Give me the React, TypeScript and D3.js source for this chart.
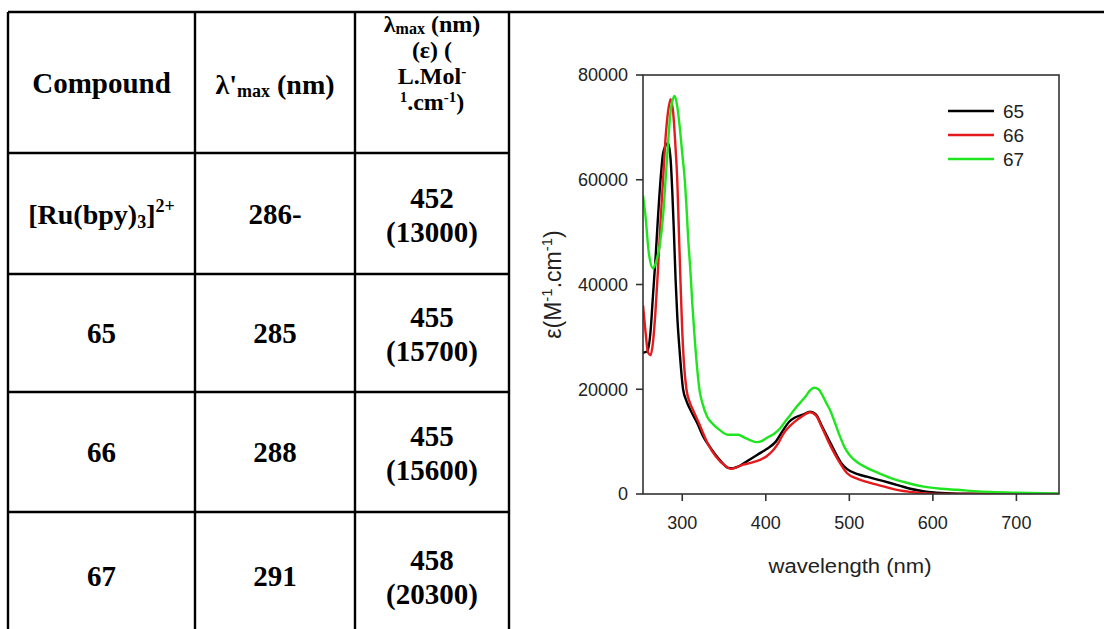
import React from "react";
import * as d3 from "d3";

// ---- Table data ----
const compounds = ["[Ru(bpy)3]2+", "65", "66", "67"];
const lambdaPrime = ["286-", "285", "288", "291"];
const lambdaMax = ["452", "455", "455", "458"];
const epsilonMax = ["(13000)", "(15700)", "(15600)", "(20300)"];

// ---- Chart data ----
const xTicks = [300, 400, 500, 600, 700];
const yTicks = [0, 20000, 40000, 60000, 80000];
const seriesNames = ["65", "66", "67"];
const seriesColors = ["#000000", "#e41a1c", "#1fe51f"];

const wl65 = [253, 258, 262, 265, 268, 271, 274, 277, 280, 283, 286, 288, 290, 292, 294, 297, 301, 305, 309, 318, 325, 333, 345, 355, 360, 368, 378, 390, 401, 412, 420, 428, 435, 445, 453, 460, 467, 475, 482, 490, 497, 510, 521, 535, 549, 560, 573, 590, 610, 640, 700, 750];
const eps65 = [27000, 27200, 31000, 38000, 45000, 53000, 60000, 65000, 66500, 67000, 64000, 58000, 50000, 41000, 34000, 27000, 20000, 17800, 16300, 13500, 11000, 9000, 6500, 5000, 4900, 5300, 6300, 7500, 8600, 10000, 12000, 13800, 14600, 15200, 15700, 15200, 13000, 10500, 8300, 6000, 4800, 3800, 3300, 2700, 2100, 1600, 1000, 500, 200, 50, 0, 0];

const wl66 = [253, 256, 259, 262, 265, 268, 271, 274, 277, 280, 283, 286, 289, 292, 294, 296, 298, 300, 302, 305, 309, 313, 320, 330, 340, 353, 358, 365, 373, 381, 393, 401, 409, 415, 421, 429, 437, 445, 453, 460, 467, 475, 482, 490, 497, 510, 521, 535, 549, 560, 573, 590, 620, 750];
const eps66 = [36000, 31000, 27000, 26500, 29000, 35000, 43000, 52000, 60000, 68000, 73000, 75400, 73000, 66000, 60000, 50000, 40000, 31000, 25000, 20000, 17500, 16000, 13500, 9800, 7200, 5200, 4800, 5100, 5600, 5900, 6500, 7200, 8400, 9700, 11500, 13000, 14100, 15000, 15600, 15000, 12800, 10000, 7800, 5600, 4000, 2900, 2300, 1700, 1100, 700, 400, 100, 0, 0];

const wl67 = [253, 256, 260, 265, 269, 273, 277, 280, 283, 286, 289, 291, 294, 297, 300, 303, 305, 307, 310, 312, 315, 318, 321, 324, 330, 337, 345, 355, 367, 375, 381, 389, 395, 401, 410, 417, 423, 429, 435, 441, 448, 453, 458, 463, 468, 473, 477, 483, 489, 495, 501, 510, 521, 535, 549, 570, 589, 610, 629, 650, 669, 700, 730, 750];
const eps67 = [57000, 53000, 46000, 43100, 44500, 47500, 53000, 60000, 67000, 73000, 75500, 76000, 74000, 70000, 65000, 60000, 55000, 49000, 42000, 36400, 29500, 23700, 19500, 17400, 14700, 13300, 12200, 11300, 11300, 10700, 10300, 9900, 10100, 10700, 11500, 12500, 13800, 15000, 16300, 17400, 18700, 19800, 20300, 20000, 18800, 17200, 16000, 13500, 10900, 8700, 7300, 6000, 5000, 4000, 3100, 2100, 1400, 1000, 800, 550, 400, 250, 150, 100];

const seriesWl = [wl65, wl66, wl67];
const seriesEps = [eps65, eps66, eps67];

// ---- Layout ----
const W = 1104;
const H = 629;
const colX = [8, 195, 355, 509];
const rowY = [12, 153, 274, 392, 512, 640];

const plotL = 643, plotR = 1059, plotT = 75, plotB = 494;

const serif = "'Liberation Serif', 'Times New Roman', Times, serif";
const sans = "'Liberation Sans', Arial, Helvetica, sans-serif";

export default function App() {
  const x = d3.scaleLinear().domain([253, 751]).range([plotL, plotR]);
  const y = d3.scaleLinear().domain([0, 80000]).range([plotB, plotT]);
  const line = d3
    .line<[number, number]>()
    .x((d) => x(d[0]))
    .y((d) => y(d[1]))
    .curve(d3.curveMonotoneX);

  const cx = (i: number) => (colX[i] + colX[i + 1]) / 2;
  const txtColor = "#222";

  return (
    <svg
      width={W}
      height={H}
      style={{ position: "absolute", left: 0, top: 0, background: "#fff" }}
    >
      <rect x={0} y={0} width={W} height={H} fill="#fff" />
      {/* ---- Table grid ---- */}
      <g stroke="#000" strokeWidth={2.4} fill="none">
        <line x1={colX[0]} y1={rowY[0]} x2={W} y2={rowY[0]} />
        {colX.map((cxv, i) => (
          <line key={"v" + i} x1={cxv} y1={rowY[0]} x2={cxv} y2={H} />
        ))}
        {rowY.slice(1, 5).map((ry, i) => (
          <line key={"h" + i} x1={colX[0]} y1={ry} x2={colX[3]} y2={ry} />
        ))}
      </g>

      {/* ---- Table header ---- */}
      <g fontFamily={serif} fontWeight="bold" fill="#000" textAnchor="middle">
        <text x={cx(0)} y={93} fontSize={29}>Compound</text>
        <text x={cx(1)} y={94} fontSize={28}>
          λ'<tspan fontSize={18} dy={3}>max</tspan>
          <tspan dy={-3}> (nm)</tspan>
        </text>
        <text x={cx(2)} y={32} fontSize={24}>
          λ<tspan fontSize={16} dy={2}>max</tspan>
          <tspan dy={-2}> (nm)</tspan>
        </text>
        <text x={cx(2)} y={58} fontSize={24}>(ε) (</text>
        <text x={cx(2)} y={84} fontSize={24}>
          L.Mol<tspan fontSize={15} dy={-8}>-</tspan>
        </text>
        <text x={cx(2)} y={110} fontSize={24}>
          <tspan fontSize={15} dy={-8}>1</tspan>
          <tspan dy={8}>.cm</tspan>
          <tspan fontSize={15} dy={-8}>-1</tspan>
          <tspan dy={8}>)</tspan>
        </text>
      </g>

      {/* ---- Table body ---- */}
      <g fontFamily={serif} fontWeight="bold" fill="#000" textAnchor="middle" fontSize={29}>
        {compounds.map((c, i) => {
          const mid = (rowY[i + 1] + rowY[i + 2]) / 2;
          return (
            <g key={"r" + i}>
              {i === 0 ? (
                <text x={cx(0)} y={mid + 10} fontSize={28}>
                  [Ru(bpy)<tspan fontSize={18} dy={4}>3</tspan>
                  <tspan dy={-4}>]</tspan>
                  <tspan fontSize={18} dy={-12}>2+</tspan>
                </text>
              ) : (
                <text x={cx(0)} y={mid + 10}>{c}</text>
              )}
              <text x={cx(1)} y={mid + 10}>{lambdaPrime[i]}</text>
              <text x={cx(2)} y={mid - 6}>{lambdaMax[i]}</text>
              <text x={cx(2)} y={mid + 28}>{epsilonMax[i]}</text>
            </g>
          );
        })}
      </g>

      {/* ---- Chart ---- */}
      <defs>
        <clipPath id="plotclip">
          <rect x={plotL} y={plotT - 2} width={plotR - plotL} height={plotB - plotT + 2} />
        </clipPath>
      </defs>
      <g clipPath="url(#plotclip)" fill="none">
        {seriesNames.map((n, i) => (
          <path
            key={n}
            d={line(seriesWl[i].map((w, j) => [w, seriesEps[i][j]] as [number, number])) || ""}
            stroke={seriesColors[i]}
            strokeWidth={2.4}
            strokeLinejoin="round"
          />
        ))}
      </g>

      {/* frame */}
      <rect
        x={plotL}
        y={plotT}
        width={plotR - plotL}
        height={plotB - plotT}
        fill="none"
        stroke="#333"
        strokeWidth={1.6}
      />
      {/* ticks and labels */}
      <g fontFamily={sans} fontSize={18} fill={txtColor}>
        {yTicks.map((t) => (
          <g key={"yt" + t}>
            <line x1={plotL - 7} x2={plotL} y1={y(t)} y2={y(t)} stroke="#333" strokeWidth={1.6} />
            <text x={plotL - 15} y={y(t)} dy="0.35em" textAnchor="end">
              {t}
            </text>
          </g>
        ))}
        {xTicks.map((t) => (
          <g key={"xt" + t}>
            <line x1={x(t)} x2={x(t)} y1={plotB} y2={plotB + 7} stroke="#333" strokeWidth={1.6} />
            <text x={x(t)} y={529} textAnchor="middle">
              {t}
            </text>
          </g>
        ))}
        <text
          x={(plotL + plotR) / 2 - 1}
          y={573}
          textAnchor="middle"
          fontSize={20}
          textLength={163}
          lengthAdjust="spacingAndGlyphs"
        >
          wavelength (nm)
        </text>
        <text
          transform={`translate(561, ${(plotT + plotB) / 2}) rotate(-90)`}
          textAnchor="middle"
          fontSize={23}
        >
          ε(M<tspan fontSize={15} dy={-9}>-1</tspan>
          <tspan dy={9}>.cm</tspan>
          <tspan fontSize={15} dy={-9}>-1</tspan>
          <tspan dy={9}>)</tspan>
        </text>
      </g>

      {/* legend */}
      <g fontFamily={sans} fontSize={19} fill={txtColor}>
        {seriesNames.map((n, i) => (
          <g key={"lg" + n}>
            <line
              x1={948}
              x2={994}
              y1={111 + i * 24}
              y2={111 + i * 24}
              stroke={seriesColors[i]}
              strokeWidth={2.6}
            />
            <text x={1003} y={111 + i * 24} dy="0.35em">
              {n}
            </text>
          </g>
        ))}
      </g>
    </svg>
  );
}
